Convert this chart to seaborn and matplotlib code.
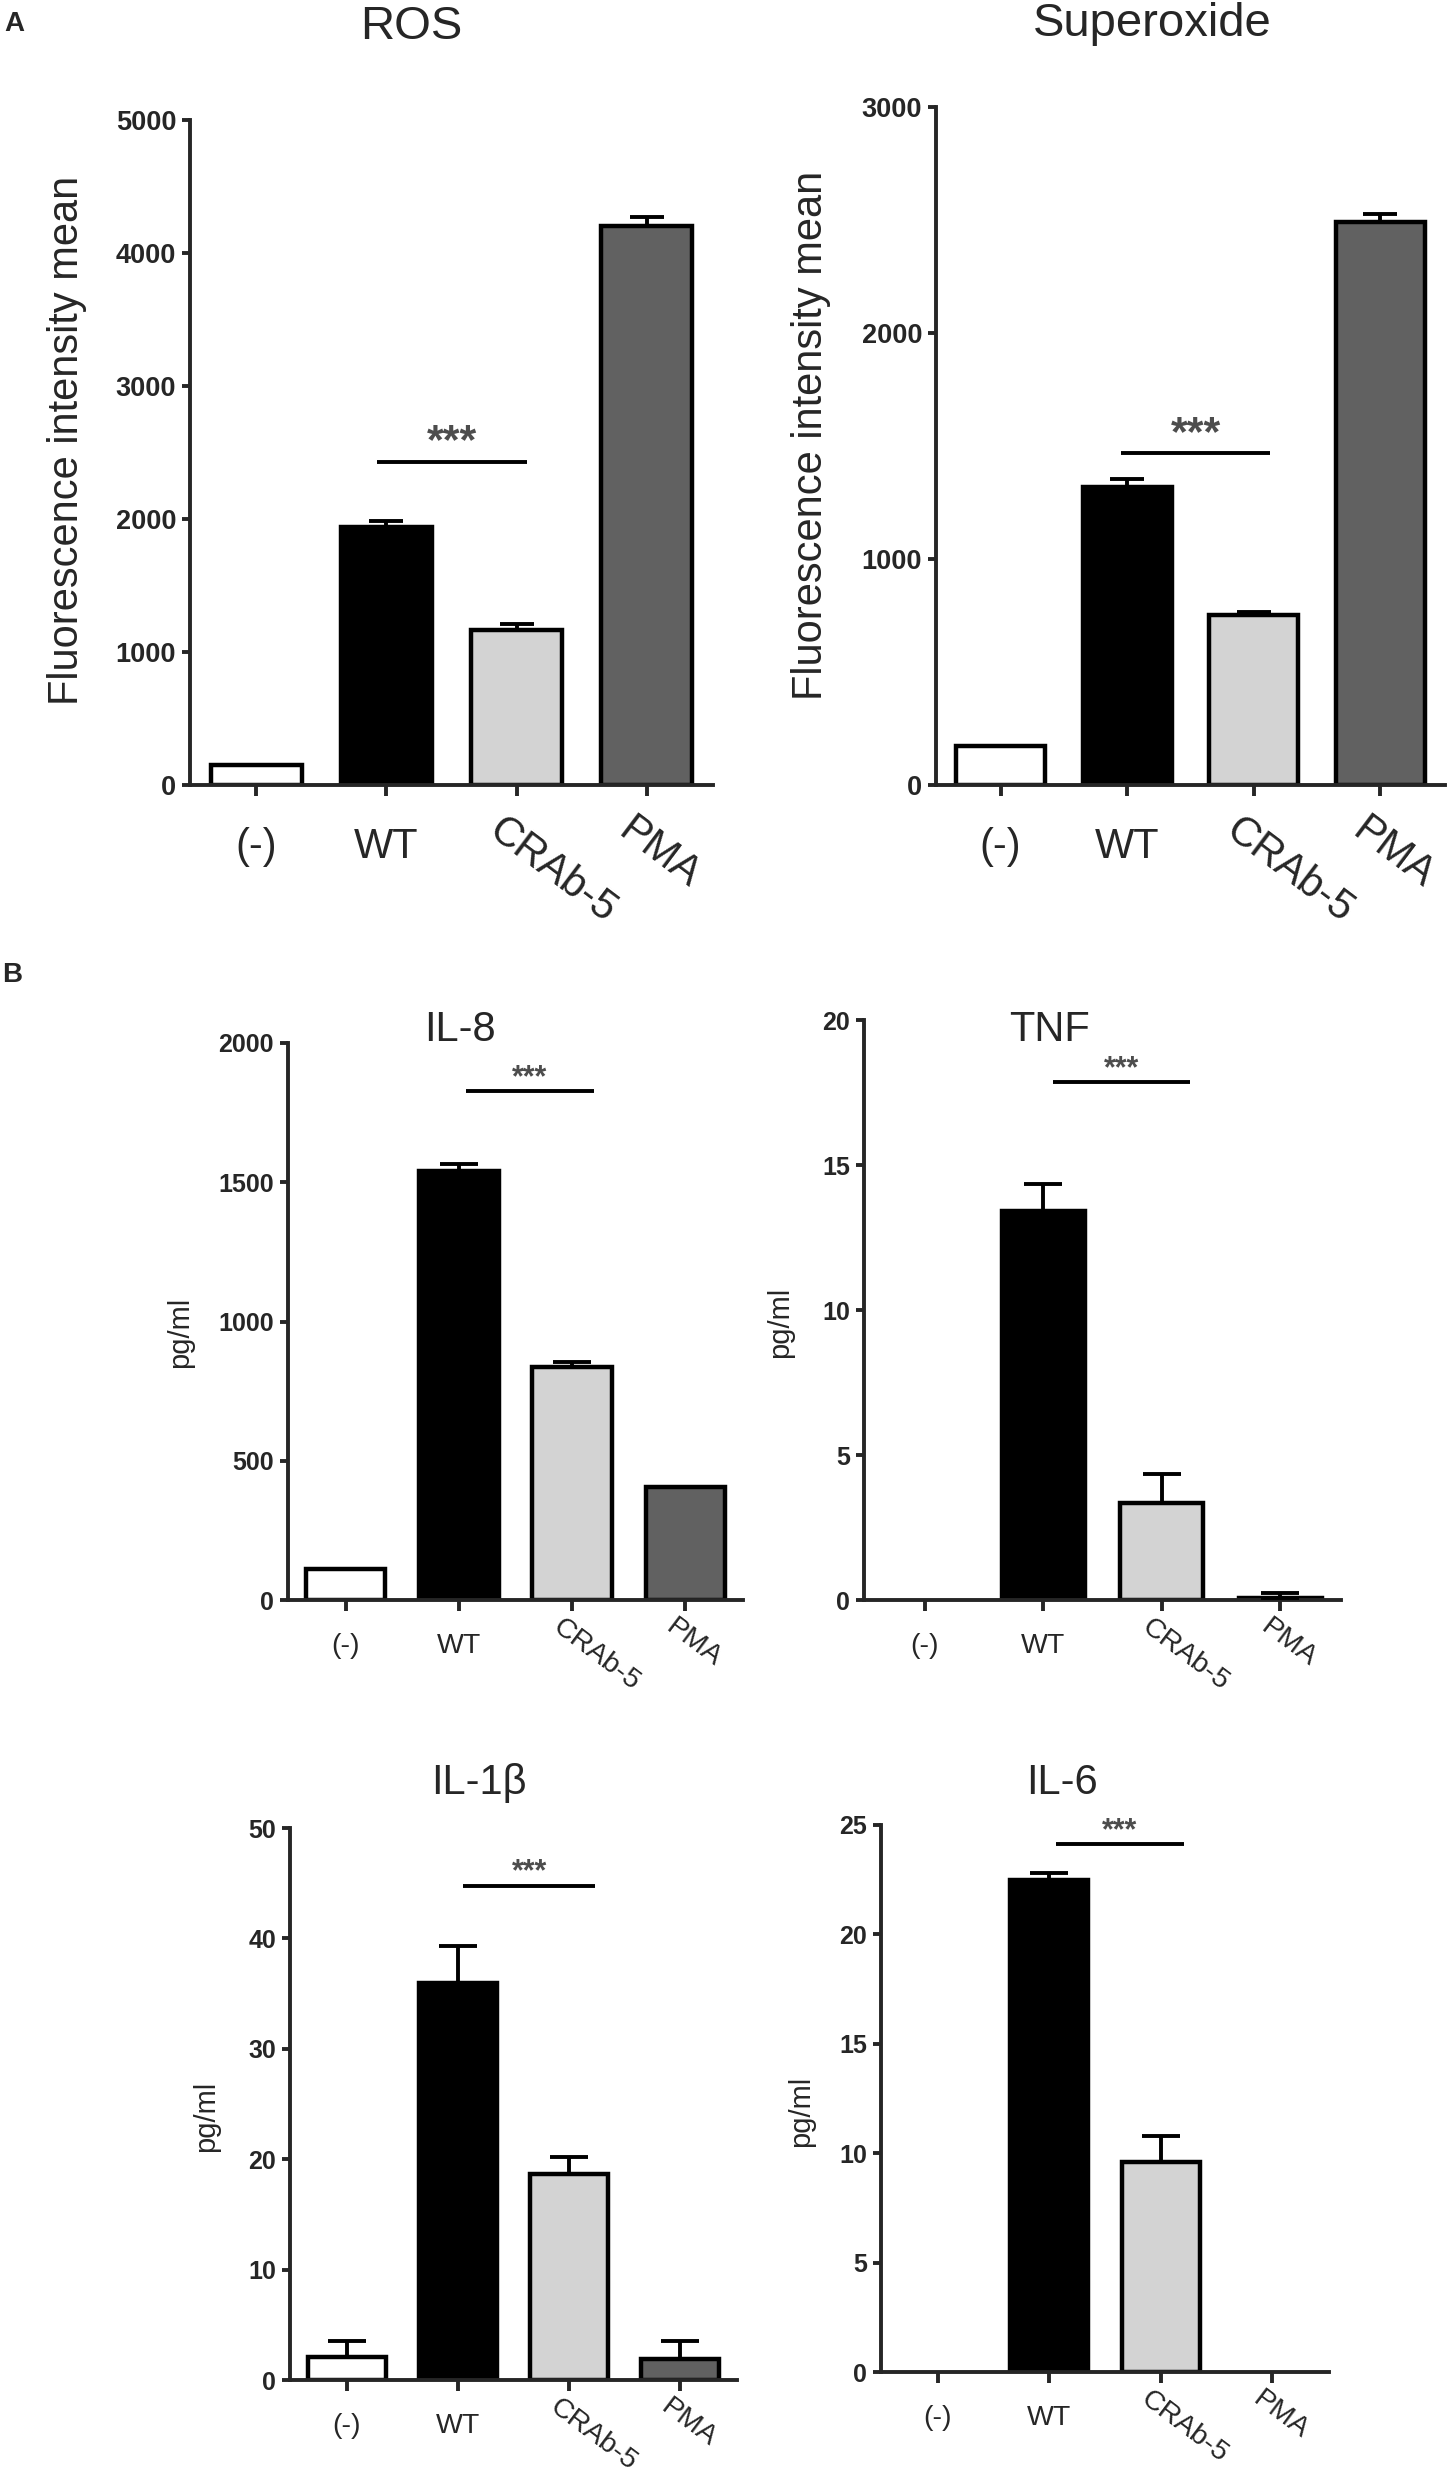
"""Bar charts: ROS / superoxide (A) and cytokines (B)."""
import matplotlib

matplotlib.use("Agg")
import matplotlib.pyplot as plt
from matplotlib.transforms import offset_copy
import numpy as np
import pandas as pd
import seaborn as sns

sns.set_style("ticks")
plt.rcParams["font.family"] = ["Liberation Sans", "DejaVu Sans"]

groups = ["(-)", "WT", "CRAb-5", "PMA"]
bar_colors = ["#ffffff", "#000000", "#d3d3d3", "#616161"]

ros_mean = [150, 1940, 1165, 4200]
ros_sem = [0, 45, 45, 70]
superoxide_mean = [174, 1318, 754, 2490]
superoxide_sem = [0, 37, 13, 38]
il8_mean = [111, 1541, 838, 404]
il8_sem = [0, 23, 18, 0]
tnf_mean = [0, 13.4, 3.34, 0.08]
tnf_sem = [0, 0.95, 1.0, 0.17]
il1b_mean = [2.1, 36.0, 18.7, 1.9]
il1b_sem = [1.4, 3.35, 1.5, 1.6]
il6_mean = [0, 22.5, 9.6, 0]
il6_sem = [0, 0.3, 1.2, 0]

# significance bar (WT vs CRAb-5): height in data units
sig_heights = [2432, 1470, 1828, 17.85, 44.77, 24.12]

W, H, DPI = 1450, 2482, 100


def box(left, right, top, bottom):
    return [left / W, 1 - bottom / H, (right - left) / W, (bottom - top) / H]


panels = [
    dict(title="ROS", ylabel="Fluorescence intensity mean", mean=ros_mean, sem=ros_sem,
         ymax=5000, step=1000, box=(190, 713, 120, 785), title_xy=(411, 27),
         ylabel_xy=(67, 440), sig=(0.93, 2.08), big=True),
    dict(title="Superoxide", ylabel="Fluorescence intensity mean", mean=superoxide_mean,
         sem=superoxide_sem, ymax=3000, step=1000, box=(936, 1445, 107, 785),
         title_xy=(1152, 24), ylabel_xy=(811, 435), sig=(0.95, 2.13), big=True),
    dict(title="IL-8", ylabel="pg/ml", mean=il8_mean, sem=il8_sem, ymax=2000, step=500,
         box=(288, 743, 1043, 1600), title_xy=(460, 1030), ylabel_xy=(180, 1332),
         sig=(1.06, 2.19), big=False),
    dict(title="TNF", ylabel="pg/ml", mean=tnf_mean, sem=tnf_sem, ymax=20, step=5,
         box=(864, 1341, 1020, 1600), title_xy=(1050, 1030), ylabel_xy=(780, 1322),
         sig=(1.08, 2.24), big=False),
    dict(title="IL-1β", ylabel="pg/ml", mean=il1b_mean, sem=il1b_sem, ymax=50, step=10,
         box=(290, 737, 1828, 2380), title_xy=(479, 1783), ylabel_xy=(206, 2116),
         sig=(1.05, 2.23), big=False),
    dict(title="IL-6", ylabel="pg/ml", mean=il6_mean, sem=il6_sem, ymax=25, step=5,
         box=(881, 1329, 1825, 2372), title_xy=(1062, 1783), ylabel_xy=(801, 2111),
         sig=(1.06, 2.21), big=False),
]

fig = plt.figure(figsize=(W / DPI, H / DPI), dpi=DPI)
SPINE_LW = 2.8
BAR_LW = 3.2

for p, sig_y in zip(panels, sig_heights):
    ax = fig.add_axes(box(*p["box"]))
    big = p["big"]
    df = pd.DataFrame({"group": groups, "value": p["mean"]})
    sns.barplot(data=df, x="group", y="value", hue="group", palette=bar_colors,
                legend=False, width=0.7, edgecolor="black", linewidth=BAR_LW, ax=ax)
    # empty bars (value 0) get no outline
    for patch in ax.patches:
        if patch.get_height() == 0:
            patch.set_linewidth(0)
    sem = np.array(p["sem"], dtype=float)
    mask = sem > 0
    ax.errorbar(np.arange(len(groups))[mask], np.array(p["mean"])[mask],
                yerr=[np.zeros(mask.sum()), sem[mask]], fmt="none", ecolor="black",
                elinewidth=SPINE_LW, capsize=12 if big else 14, capthick=SPINE_LW, zorder=3)

    ax.set_xlim(-0.51, 3.51)
    ax.set_ylim(0, p["ymax"])
    ax.set_yticks(np.arange(0, p["ymax"] + p["step"] / 2, p["step"]))
    ax.set_xlabel("")
    ax.set_ylabel("")
    sns.despine(ax=ax)
    for s in ("left", "bottom"):
        ax.spines[s].set_linewidth(SPINE_LW)
    ax.tick_params(axis="both", width=SPINE_LW, direction="out")
    ax.tick_params(axis="y", length=6, labelsize=19.5 if big else 18, pad=4)
    ax.tick_params(axis="x", length=8, labelbottom=False)
    for t in ax.get_yticklabels():
        t.set_fontweight("bold")

    # category labels: first two horizontal, last two slanted
    xfs = 30 if big else 20.5
    trans = ax.get_xaxis_transform()
    for i, g in enumerate(groups):
        if i < 2:
            tr = offset_copy(trans, fig=fig, x=0, y=-(42 if big else 33), units="dots")
            ax.text(i, 0, g, transform=tr, ha="center", va="top", fontsize=xfs)
        else:
            tr = offset_copy(trans, fig=fig, x=-(11 if big else 9), y=-(25 if big else 14),
                             units="dots")
            ax.text(i, 0, g, transform=tr, ha="left", va="top", fontsize=xfs,
                    rotation=-37, rotation_mode="anchor")

    # significance line
    ax.plot(p["sig"], [sig_y, sig_y], color="black", lw=SPINE_LW, solid_capstyle="butt",
            clip_on=False)
    st = offset_copy(ax.transData, fig=fig, x=0, y=19 if big else 13, units="dots")
    ax.text(sum(p["sig"]) / 2, sig_y, "***", transform=st, ha="center", va="center",
            fontsize=31 if big else 22, fontweight="bold", color="#4d4d4d")

    tx, ty = p["title_xy"]
    fig.text(tx / W, 1 - ty / H, p["title"], ha="center", va="center",
             fontsize=34 if big else 30)
    lx, ly = p["ylabel_xy"]
    fig.text(lx / W, 1 - ly / H, p["ylabel"], ha="center", va="center", rotation=90,
             fontsize=30 if big else 21)

fig.text(14 / W, 1 - 24 / H, "A", ha="center", va="center", fontsize=20, fontweight="bold")
fig.text(12 / W, 1 - 975 / H, "B", ha="center", va="center", fontsize=20, fontweight="bold")

fig.savefig("out.png", dpi=DPI, facecolor="white")
